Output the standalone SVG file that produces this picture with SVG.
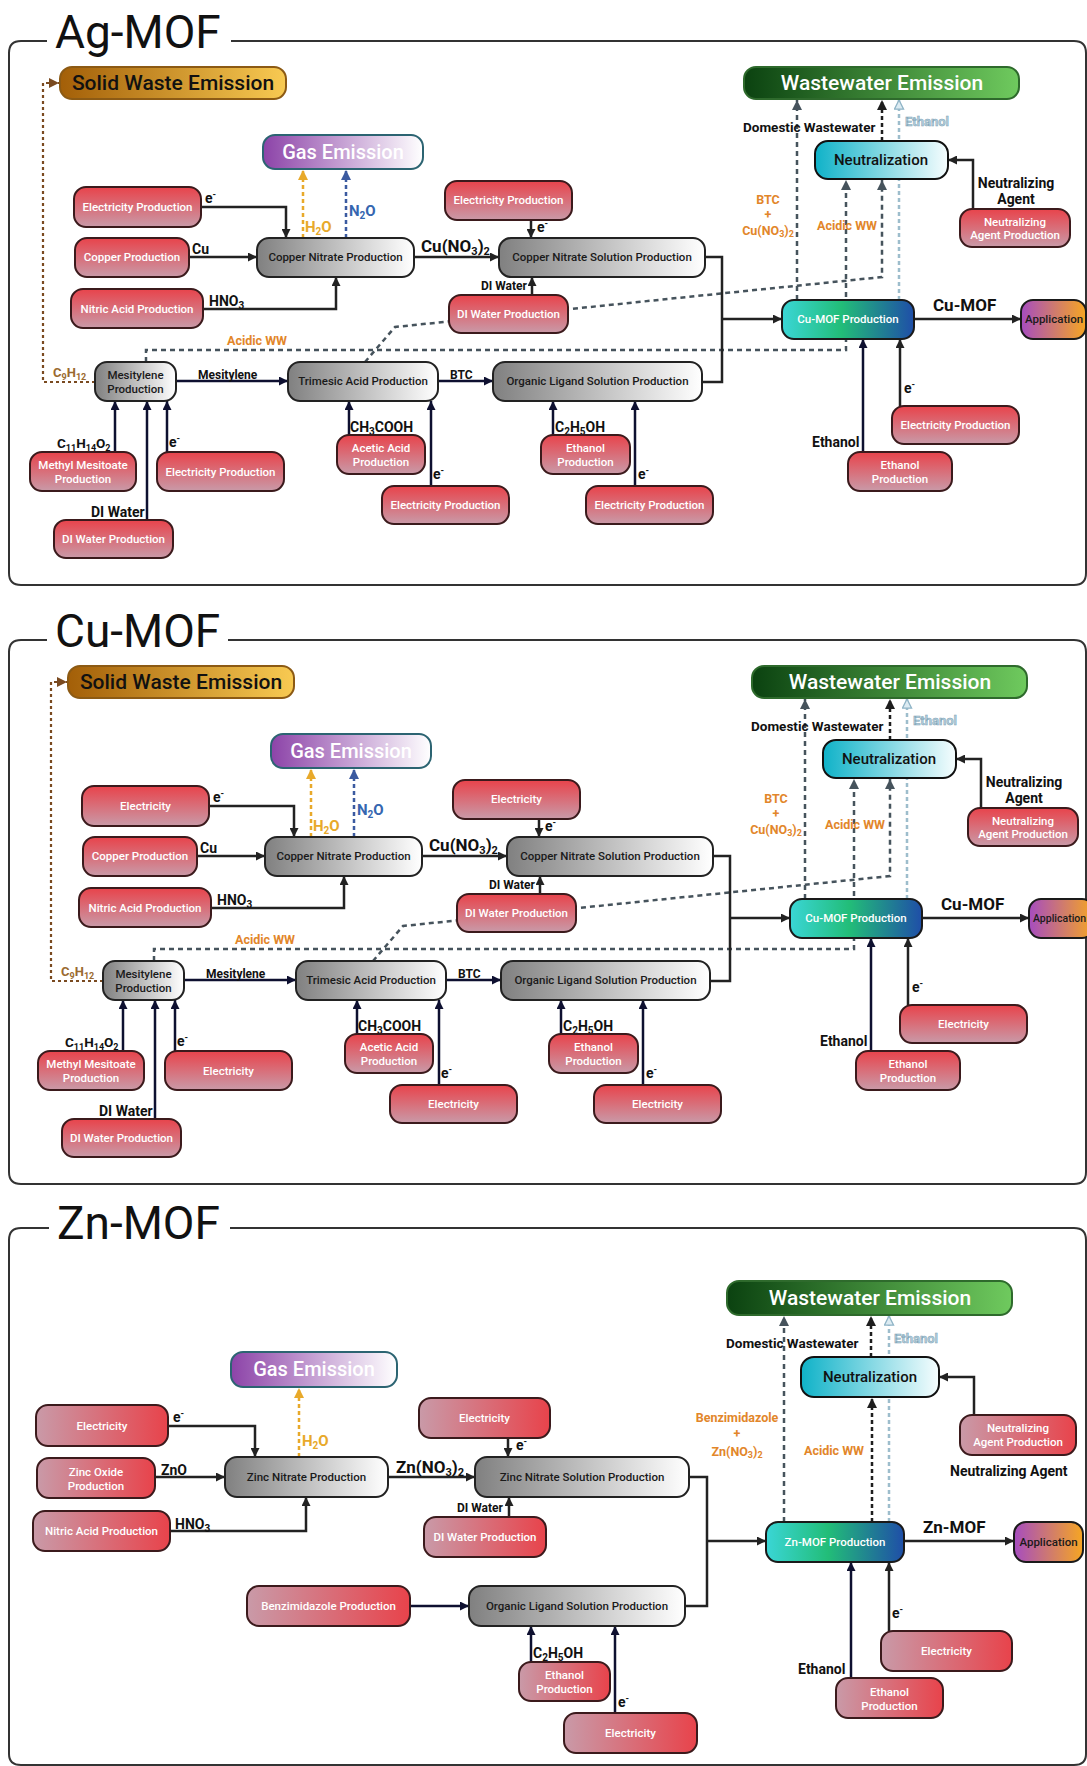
<svg xmlns="http://www.w3.org/2000/svg" width="1087" height="1766" viewBox="0 0 1087 1766">
<defs>
<linearGradient id="gRed" x1="0" y1="0" x2="0" y2="1"><stop offset="0" stop-color="#e8434b"/><stop offset="1" stop-color="#c99aa8"/></linearGradient>
<linearGradient id="gRedH" x1="0" y1="0" x2="1" y2="0"><stop offset="0" stop-color="#c99aa8"/><stop offset="1" stop-color="#e8434b"/></linearGradient>
<linearGradient id="gGray" x1="0" y1="0" x2="1" y2="0"><stop offset="0" stop-color="#808080"/><stop offset="1" stop-color="#ffffff"/></linearGradient>
<linearGradient id="gMof" x1="0" y1="0" x2="1" y2="0"><stop offset="0" stop-color="#3ad6d6"/><stop offset="0.45" stop-color="#22bd78"/><stop offset="1" stop-color="#1f4ea8"/></linearGradient>
<linearGradient id="gApp" x1="0" y1="0" x2="1" y2="0"><stop offset="0" stop-color="#a64cc0"/><stop offset="1" stop-color="#f6a622"/></linearGradient>
<linearGradient id="gNeu" x1="0" y1="0" x2="1" y2="0"><stop offset="0" stop-color="#0fb2c8"/><stop offset="1" stop-color="#f6fdfe"/></linearGradient>
<linearGradient id="gWW" x1="0" y1="0" x2="1" y2="0"><stop offset="0" stop-color="#0b4210"/><stop offset="1" stop-color="#6fca5e"/></linearGradient>
<linearGradient id="gGas" x1="0" y1="0" x2="1" y2="0"><stop offset="0" stop-color="#8c43a8"/><stop offset="1" stop-color="#ffffff"/></linearGradient>
<linearGradient id="gSW" x1="0" y1="0" x2="1" y2="0"><stop offset="0" stop-color="#a35f08"/><stop offset="1" stop-color="#f8ca52"/></linearGradient>
<marker id="aK" viewBox="0 0 10 10" refX="10" refY="5" markerWidth="9" markerHeight="9" markerUnits="userSpaceOnUse" orient="auto"><path d="M0,0 L10,5 L0,10 z" fill="#222"/></marker>
<marker id="aN" viewBox="0 0 10 10" refX="10" refY="5" markerWidth="9" markerHeight="9" markerUnits="userSpaceOnUse" orient="auto"><path d="M0,0 L10,5 L0,10 z" fill="#0e1030"/></marker>
<marker id="aG" viewBox="0 0 10 10" refX="10" refY="5" markerWidth="10" markerHeight="10" markerUnits="userSpaceOnUse" orient="auto"><path d="M0,0 L10,5 L0,10 z" fill="#46535c"/></marker>
<marker id="aD" viewBox="0 0 10 10" refX="10" refY="5" markerWidth="10" markerHeight="10" markerUnits="userSpaceOnUse" orient="auto"><path d="M0,0 L10,5 L0,10 z" fill="#1e1e1e"/></marker>
<marker id="aO" viewBox="0 0 10 10" refX="10" refY="5" markerWidth="10" markerHeight="10" markerUnits="userSpaceOnUse" orient="auto"><path d="M0,0 L10,5 L0,10 z" fill="#e8a92a"/></marker>
<marker id="aB" viewBox="0 0 10 10" refX="10" refY="5" markerWidth="10" markerHeight="10" markerUnits="userSpaceOnUse" orient="auto"><path d="M0,0 L10,5 L0,10 z" fill="#3b5aa0"/></marker>
<marker id="aL" viewBox="-1 -1 12 12" refX="10" refY="5" markerWidth="11" markerHeight="11" markerUnits="userSpaceOnUse" orient="auto"><path d="M0,0 L10,5 L0,10 z" fill="#dcebf2" stroke="#8fb4c6" stroke-width="1.4"/></marker>
<marker id="aBr" viewBox="0 0 10 10" refX="10" refY="5" markerWidth="10" markerHeight="10" markerUnits="userSpaceOnUse" orient="auto"><path d="M0,0 L10,5 L0,10 z" fill="#7a4a20"/></marker>
</defs>
<style>
text{font-family:Roboto,'Liberation Sans',sans-serif}
.red{fill:url(#gRed);stroke:#3b1a1c;stroke-width:2}
.redh{fill:url(#gRedH);stroke:#3b1a1c;stroke-width:2}
.gray{fill:url(#gGray);stroke:#222;stroke-width:2}
.mof{fill:url(#gMof);stroke:#1a1a1a;stroke-width:2}
.app{fill:url(#gApp);stroke:#1a1a1a;stroke-width:2}
.neu{fill:url(#gNeu);stroke:#111;stroke-width:2}
.ww{fill:url(#gWW);stroke:#2e6a2c;stroke-width:2}
.gas{fill:url(#gGas);stroke:#2c6472;stroke-width:2}
.sw{fill:url(#gSW);stroke:#8c5a14;stroke-width:2}
.nt{font-size:11.5px;font-weight:500;fill:#fff;text-anchor:middle}
.gt{font-size:11.5px;font-weight:500;fill:#1a1a1a;text-anchor:middle}
.nz{font-size:15px;font-weight:500;fill:#111;text-anchor:middle}
.lb{font-size:14px;font-weight:700;fill:#111}
.ls{font-size:12px;font-weight:700;fill:#111}
.lg{font-size:17px;font-weight:700;fill:#111}
.or{font-size:12.5px;font-weight:700;fill:#e2862a}
.lt{font-size:13px;font-weight:700;fill:#b4cfdc;stroke:#7fa3b6;stroke-width:0.5}
.hd{font-size:21px;font-weight:500;text-anchor:middle}
.ti{font-size:46px;font-weight:400;fill:#111}
.frame{fill:none;stroke:#333;stroke-width:2}
.c{fill:none;stroke:#222;stroke-width:2.5}
.cn{fill:none;stroke:#0e1030;stroke-width:2.5}
.dg{fill:none;stroke:#46535c;stroke-width:2.5;stroke-dasharray:5 4}
.dd{fill:none;stroke:#1e1e1e;stroke-width:2.5;stroke-dasharray:4 3}
.dl{fill:none;stroke:#9dbdcc;stroke-width:2.5;stroke-dasharray:4 3}
.dor{fill:none;stroke:#e8a92a;stroke-width:2.5;stroke-dasharray:4 3}
.dbl{fill:none;stroke:#3b5aa0;stroke-width:2.5;stroke-dasharray:4 3}
.dbr{fill:none;stroke:#7a4a20;stroke-width:2.2;stroke-dasharray:3 3}
</style>
<rect width="1087" height="1766" fill="#fff"/>

<!-- ================= PANEL 1 : Ag-MOF ================= -->
<g id="p1-frame">
<path class="frame" d="M47,41 H21 Q9,41 9,53 V573 Q9,585 21,585 H1074 Q1086,585 1086,573 V53 Q1086,41 1074,41 H231"/>
<text class="ti" x="55" y="48">Ag-MOF</text>
</g>
<g id="p1-connectors">
<path class="dbr" d="M95,382 H43 V83 H59" marker-end="url(#aBr)"/>
<path class="dor" d="M303,238 V170" marker-end="url(#aO)"/>
<path class="dbl" d="M346,238 V170" marker-end="url(#aB)"/>
<path class="dg" d="M146,362 V350 H846 V180" marker-end="url(#aG)"/>
<path class="dg" d="M365,362 L395,327 L882,277 V180" marker-end="url(#aG)"/>
<path class="dg" d="M797,300 V100" marker-end="url(#aG)"/>
<path class="dd" d="M882,141 V100" marker-end="url(#aD)"/>
<path class="dl" d="M899,300 V100" marker-end="url(#aL)"/>
<path class="c" d="M201,207 H286 V238" marker-end="url(#aK)"/>
<path class="c" d="M189,257 H257" marker-end="url(#aK)"/>
<path class="c" d="M203,309 H336 V277" marker-end="url(#aK)"/>
<path class="c" d="M414,257 H499" marker-end="url(#aK)"/>
<path class="c" d="M531,220 V238" marker-end="url(#aK)"/>
<path class="c" d="M532,295 V277" marker-end="url(#aK)"/>
<path class="c" d="M705,257 H722 V382 H702"/>
<path class="c" d="M722,319 H782" marker-end="url(#aK)"/>
<path class="cn" d="M176,381 H288" marker-end="url(#aN)"/>
<path class="cn" d="M438,381 H493" marker-end="url(#aN)"/>
<path class="cn" d="M115,452 V401" marker-end="url(#aN)"/>
<path class="cn" d="M147,520 V401" marker-end="url(#aN)"/>
<path class="cn" d="M167,452 V401" marker-end="url(#aN)"/>
<path class="cn" d="M349,435 V401" marker-end="url(#aN)"/>
<path class="cn" d="M431,486 V401" marker-end="url(#aN)"/>
<path class="cn" d="M553,435 V401" marker-end="url(#aN)"/>
<path class="cn" d="M635,486 V401" marker-end="url(#aN)"/>
<path class="c" d="M914,319 H1021" marker-end="url(#aK)"/>
<path class="cn" d="M863,452 V339" marker-end="url(#aN)"/>
<path class="c" d="M900,406 V339" marker-end="url(#aK)"/>
<path class="c" d="M973,209 V160 H948" marker-end="url(#aK)"/>
</g>
<g id="p1-labels">
<text class="lb" x="205" y="203">e<tspan dy="-6" font-size="9">-</tspan></text>
<text class="lb" x="192" y="254">Cu</text>
<text class="lb" x="209" y="306">HNO<tspan dy="3" font-size="10">3</tspan></text>
<text class="lb" x="305" y="232" style="fill:#e8a92a;font-size:15px">H<tspan dy="3" font-size="10">2</tspan><tspan dy="-3">O</tspan></text>
<text class="lb" x="349" y="216" style="fill:#3566b0;font-size:15px">N<tspan dy="3" font-size="10">2</tspan><tspan dy="-3">O</tspan></text>
<text class="lg" x="421" y="252">Cu(NO<tspan dy="3" font-size="11">3</tspan><tspan dy="-3">)</tspan><tspan dy="3" font-size="11">2</tspan></text>
<text class="lb" x="537" y="232">e<tspan dy="-6" font-size="9">-</tspan></text>
<text class="ls" x="481" y="290">DI Water</text>
<text class="ls" x="198" y="379">Mesitylene</text>
<text class="ls" x="450" y="379">BTC</text>
<text class="lb" x="53" y="377" style="fill:#9a6a30;font-size:13px">C<tspan dy="3" font-size="9">9</tspan><tspan dy="-3">H</tspan><tspan dy="3" font-size="9">12</tspan></text>
<text class="or" x="227" y="345">Acidic WW</text>
<text class="lb" x="57" y="448" style="font-size:13.5px">C<tspan dy="3" font-size="9">11</tspan><tspan dy="-3">H</tspan><tspan dy="3" font-size="9">14</tspan><tspan dy="-3">O</tspan><tspan dy="3" font-size="9">2</tspan></text>
<text class="lb" x="91" y="517">DI Water</text>
<text class="lb" x="169" y="447">e<tspan dy="-6" font-size="9">-</tspan></text>
<text class="lb" x="350" y="432">CH<tspan dy="3" font-size="10">3</tspan><tspan dy="-3">COOH</tspan></text>
<text class="lb" x="433" y="479">e<tspan dy="-6" font-size="9">-</tspan></text>
<text class="lb" x="555" y="432">C<tspan dy="3" font-size="10">2</tspan><tspan dy="-3">H</tspan><tspan dy="3" font-size="10">5</tspan><tspan dy="-3">OH</tspan></text>
<text class="lb" x="638" y="479">e<tspan dy="-6" font-size="9">-</tspan></text>
<text class="lb" x="812" y="447">Ethanol</text>
<text class="lb" x="904" y="393">e<tspan dy="-6" font-size="9">-</tspan></text>
<text class="lg" x="933" y="311">Cu-MOF</text>
<text class="lb" x="743" y="132" style="font-size:13.5px">Domestic Wastewater</text>
<text class="lt" x="905" y="126">Ethanol</text>
<text class="or" x="768" y="204" text-anchor="middle">BTC</text>
<text class="or" x="768" y="219" text-anchor="middle">+</text>
<text class="or" x="768" y="235" text-anchor="middle">Cu(NO<tspan dy="2" font-size="9">3</tspan><tspan dy="-2">)</tspan><tspan dy="2" font-size="9">2</tspan></text>
<text class="or" x="817" y="230">Acidic WW</text>
<text class="lb" x="1016" y="188" text-anchor="middle">Neutralizing</text>
<text class="lb" x="1016" y="204" text-anchor="middle">Agent</text>
</g>
<g id="p1-solid-waste"><rect class="sw" x="60" y="67" width="226" height="32" rx="12"/><text class="hd" x="173" y="90" fill="#111">Solid Waste Emission</text></g>
<g id="p1-gas"><rect class="gas" x="263" y="135" width="160" height="34" rx="12"/><text class="hd" x="343" y="159" fill="#fff" style="font-size:20px">Gas Emission</text></g>
<g id="p1-wastewater"><rect class="ww" x="744" y="67" width="275" height="32" rx="12"/><text class="hd" x="882" y="90" fill="#fff">Wastewater Emission</text></g>
<g id="p1-neutralization"><rect class="neu" x="815" y="141" width="133" height="38" rx="13"/><text class="nz" x="881" y="165">Neutralization</text></g>
<g id="p1-neutralizing-agent-prod"><rect class="red" x="960" y="209" width="110" height="38" rx="12"/><text class="nt" x="1015" y="226">Neutralizing</text><text class="nt" x="1015" y="239">Agent Production</text></g>
<g id="p1-mof-prod"><rect class="mof" x="782" y="300" width="132" height="39" rx="12"/><text class="nt" x="848" y="323">Cu-MOF Production</text></g>
<g id="p1-application"><rect class="app" x="1021" y="300" width="65" height="39" rx="12"/><text class="gt" x="1054" y="323">Application</text></g>
<g id="p1-elec-a"><rect class="red" x="74" y="187" width="127" height="40" rx="12"/><text class="nt" x="137.5" y="211">Electricity Production</text></g>
<g id="p1-copper"><rect class="red" x="75" y="238" width="114" height="39" rx="12"/><text class="nt" x="132" y="261">Copper Production</text></g>
<g id="p1-nitric"><rect class="red" x="71" y="289" width="132" height="39" rx="12"/><text class="nt" x="137" y="313">Nitric Acid Production</text></g>
<g id="p1-copper-nitrate"><rect class="gray" x="257" y="238" width="157" height="39" rx="12"/><text class="gt" x="335.5" y="261">Copper Nitrate Production</text></g>
<g id="p1-elec-b"><rect class="red" x="445" y="181" width="127" height="39" rx="12"/><text class="nt" x="508.5" y="204">Electricity Production</text></g>
<g id="p1-cn-solution"><rect class="gray" x="499" y="238" width="206" height="39" rx="12"/><text class="gt" x="602" y="261">Copper Nitrate Solution Production</text></g>
<g id="p1-diwater-a"><rect class="red" x="449" y="295" width="119" height="38" rx="12"/><text class="nt" x="508.5" y="318">DI Water Production</text></g>
<g id="p1-mesitylene"><rect class="gray" x="95" y="362" width="81" height="39" rx="12"/><text class="gt" x="135.5" y="379">Mesitylene</text><text class="gt" x="135.5" y="393">Production</text></g>
<g id="p1-trimesic"><rect class="gray" x="288" y="362" width="150" height="39" rx="12"/><text class="gt" x="363" y="385">Trimesic Acid Production</text></g>
<g id="p1-organic-ligand"><rect class="gray" x="493" y="362" width="209" height="39" rx="12"/><text class="gt" x="597.5" y="385">Organic Ligand Solution Production</text></g>
<g id="p1-methyl-mesitoate"><rect class="red" x="30" y="452" width="106" height="39" rx="12"/><text class="nt" x="83" y="469">Methyl Mesitoate</text><text class="nt" x="83" y="483">Production</text></g>
<g id="p1-elec-c"><rect class="red" x="157" y="452" width="127" height="39" rx="12"/><text class="nt" x="220.5" y="476">Electricity Production</text></g>
<g id="p1-diwater-b"><rect class="red" x="54" y="520" width="119" height="38" rx="12"/><text class="nt" x="113.5" y="543">DI Water Production</text></g>
<g id="p1-acetic"><rect class="red" x="337" y="435" width="88" height="39" rx="12"/><text class="nt" x="381" y="452">Acetic Acid</text><text class="nt" x="381" y="466">Production</text></g>
<g id="p1-elec-d"><rect class="red" x="382" y="486" width="127" height="38" rx="12"/><text class="nt" x="445.5" y="509">Electricity Production</text></g>
<g id="p1-ethanol-a"><rect class="red" x="541" y="435" width="89" height="39" rx="12"/><text class="nt" x="585.5" y="452">Ethanol</text><text class="nt" x="585.5" y="466">Production</text></g>
<g id="p1-elec-e"><rect class="red" x="586" y="486" width="127" height="38" rx="12"/><text class="nt" x="649.5" y="509">Electricity Production</text></g>
<g id="p1-elec-f"><rect class="red" x="892" y="406" width="127" height="38" rx="12"/><text class="nt" x="955.5" y="429">Electricity Production</text></g>
<g id="p1-ethanol-b"><rect class="red" x="848" y="452" width="104" height="39" rx="12"/><text class="nt" x="900" y="469">Ethanol</text><text class="nt" x="900" y="483">Production</text></g>

<!-- ================= PANEL 2 : Cu-MOF ================= -->
<g id="p2-frame">
<path class="frame" d="M47,640 H21 Q9,640 9,652 V1172 Q9,1184 21,1184 H1074 Q1086,1184 1086,1172 V652 Q1086,640 1074,640 H228"/>
<text class="ti" x="55" y="647">Cu-MOF</text>
</g>
<g transform="translate(8,599)">
<g id="p2-connectors">
<path class="dbr" d="M95,382 H43 V83 H59" marker-end="url(#aBr)"/>
<path class="dor" d="M303,238 V170" marker-end="url(#aO)"/>
<path class="dbl" d="M346,238 V170" marker-end="url(#aB)"/>
<path class="dg" d="M146,362 V350 H846 V180" marker-end="url(#aG)"/>
<path class="dg" d="M365,362 L395,327 L882,277 V180" marker-end="url(#aG)"/>
<path class="dg" d="M797,300 V100" marker-end="url(#aG)"/>
<path class="dd" d="M882,141 V100" marker-end="url(#aD)"/>
<path class="dl" d="M899,300 V100" marker-end="url(#aL)"/>
<path class="c" d="M201,207 H286 V238" marker-end="url(#aK)"/>
<path class="c" d="M189,257 H257" marker-end="url(#aK)"/>
<path class="c" d="M203,309 H336 V277" marker-end="url(#aK)"/>
<path class="c" d="M414,257 H499" marker-end="url(#aK)"/>
<path class="c" d="M531,220 V238" marker-end="url(#aK)"/>
<path class="c" d="M532,295 V277" marker-end="url(#aK)"/>
<path class="c" d="M705,257 H722 V382 H702"/>
<path class="c" d="M722,319 H782" marker-end="url(#aK)"/>
<path class="cn" d="M176,381 H288" marker-end="url(#aN)"/>
<path class="cn" d="M438,381 H493" marker-end="url(#aN)"/>
<path class="cn" d="M115,452 V401" marker-end="url(#aN)"/>
<path class="cn" d="M147,520 V401" marker-end="url(#aN)"/>
<path class="cn" d="M167,452 V401" marker-end="url(#aN)"/>
<path class="cn" d="M349,435 V401" marker-end="url(#aN)"/>
<path class="cn" d="M431,486 V401" marker-end="url(#aN)"/>
<path class="cn" d="M553,435 V401" marker-end="url(#aN)"/>
<path class="cn" d="M635,486 V401" marker-end="url(#aN)"/>
<path class="c" d="M914,319 H1021" marker-end="url(#aK)"/>
<path class="cn" d="M863,452 V339" marker-end="url(#aN)"/>
<path class="c" d="M900,406 V339" marker-end="url(#aK)"/>
<path class="c" d="M973,209 V160 H948" marker-end="url(#aK)"/>
</g>
<g id="p2-labels">
<text class="lb" x="205" y="203">e<tspan dy="-6" font-size="9">-</tspan></text>
<text class="lb" x="192" y="254">Cu</text>
<text class="lb" x="209" y="306">HNO<tspan dy="3" font-size="10">3</tspan></text>
<text class="lb" x="305" y="232" style="fill:#e8a92a;font-size:15px">H<tspan dy="3" font-size="10">2</tspan><tspan dy="-3">O</tspan></text>
<text class="lb" x="349" y="216" style="fill:#3566b0;font-size:15px">N<tspan dy="3" font-size="10">2</tspan><tspan dy="-3">O</tspan></text>
<text class="lg" x="421" y="252">Cu(NO<tspan dy="3" font-size="11">3</tspan><tspan dy="-3">)</tspan><tspan dy="3" font-size="11">2</tspan></text>
<text class="lb" x="537" y="232">e<tspan dy="-6" font-size="9">-</tspan></text>
<text class="ls" x="481" y="290">DI Water</text>
<text class="ls" x="198" y="379">Mesitylene</text>
<text class="ls" x="450" y="379">BTC</text>
<text class="lb" x="53" y="377" style="fill:#9a6a30;font-size:13px">C<tspan dy="3" font-size="9">9</tspan><tspan dy="-3">H</tspan><tspan dy="3" font-size="9">12</tspan></text>
<text class="or" x="227" y="345">Acidic WW</text>
<text class="lb" x="57" y="448" style="font-size:13.5px">C<tspan dy="3" font-size="9">11</tspan><tspan dy="-3">H</tspan><tspan dy="3" font-size="9">14</tspan><tspan dy="-3">O</tspan><tspan dy="3" font-size="9">2</tspan></text>
<text class="lb" x="91" y="517">DI Water</text>
<text class="lb" x="169" y="447">e<tspan dy="-6" font-size="9">-</tspan></text>
<text class="lb" x="350" y="432">CH<tspan dy="3" font-size="10">3</tspan><tspan dy="-3">COOH</tspan></text>
<text class="lb" x="433" y="479">e<tspan dy="-6" font-size="9">-</tspan></text>
<text class="lb" x="555" y="432">C<tspan dy="3" font-size="10">2</tspan><tspan dy="-3">H</tspan><tspan dy="3" font-size="10">5</tspan><tspan dy="-3">OH</tspan></text>
<text class="lb" x="638" y="479">e<tspan dy="-6" font-size="9">-</tspan></text>
<text class="lb" x="812" y="447">Ethanol</text>
<text class="lb" x="904" y="393">e<tspan dy="-6" font-size="9">-</tspan></text>
<text class="lg" x="933" y="311">Cu-MOF</text>
<text class="lb" x="743" y="132" style="font-size:13.5px">Domestic Wastewater</text>
<text class="lt" x="905" y="126">Ethanol</text>
<text class="or" x="768" y="204" text-anchor="middle">BTC</text>
<text class="or" x="768" y="219" text-anchor="middle">+</text>
<text class="or" x="768" y="235" text-anchor="middle">Cu(NO<tspan dy="2" font-size="9">3</tspan><tspan dy="-2">)</tspan><tspan dy="2" font-size="9">2</tspan></text>
<text class="or" x="817" y="230">Acidic WW</text>
<text class="lb" x="1016" y="188" text-anchor="middle">Neutralizing</text>
<text class="lb" x="1016" y="204" text-anchor="middle">Agent</text>
</g>
<g id="p2-solid-waste"><rect class="sw" x="60" y="67" width="226" height="32" rx="12"/><text class="hd" x="173" y="90" fill="#111">Solid Waste Emission</text></g>
<g id="p2-gas"><rect class="gas" x="263" y="135" width="160" height="34" rx="12"/><text class="hd" x="343" y="159" fill="#fff" style="font-size:20px">Gas Emission</text></g>
<g id="p2-wastewater"><rect class="ww" x="744" y="67" width="275" height="32" rx="12"/><text class="hd" x="882" y="90" fill="#fff">Wastewater Emission</text></g>
<g id="p2-neutralization"><rect class="neu" x="815" y="141" width="133" height="38" rx="13"/><text class="nz" x="881" y="165">Neutralization</text></g>
<g id="p2-neutralizing-agent-prod"><rect class="red" x="960" y="209" width="110" height="38" rx="12"/><text class="nt" x="1015" y="226">Neutralizing</text><text class="nt" x="1015" y="239">Agent Production</text></g>
<g id="p2-mof-prod"><rect class="mof" x="782" y="300" width="132" height="39" rx="12"/><text class="nt" x="848" y="323">Cu-MOF Production</text></g>
<g id="p2-application"><rect class="app" x="1021" y="300" width="65" height="39" rx="12"/><text class="gt" x="1025" y="323" style="font-size:10.5px;text-anchor:start">Application</text></g>
<g id="p2-elec-a"><rect class="red" x="74" y="187" width="127" height="40" rx="12"/><text class="nt" x="137.5" y="211">Electricity</text></g>
<g id="p2-copper"><rect class="red" x="75" y="238" width="114" height="39" rx="12"/><text class="nt" x="132" y="261">Copper Production</text></g>
<g id="p2-nitric"><rect class="red" x="71" y="289" width="132" height="39" rx="12"/><text class="nt" x="137" y="313">Nitric Acid Production</text></g>
<g id="p2-copper-nitrate"><rect class="gray" x="257" y="238" width="157" height="39" rx="12"/><text class="gt" x="335.5" y="261">Copper Nitrate Production</text></g>
<g id="p2-elec-b"><rect class="red" x="445" y="181" width="127" height="39" rx="12"/><text class="nt" x="508.5" y="204">Electricity</text></g>
<g id="p2-cn-solution"><rect class="gray" x="499" y="238" width="206" height="39" rx="12"/><text class="gt" x="602" y="261">Copper Nitrate Solution Production</text></g>
<g id="p2-diwater-a"><rect class="red" x="449" y="295" width="119" height="38" rx="12"/><text class="nt" x="508.5" y="318">DI Water Production</text></g>
<g id="p2-mesitylene"><rect class="gray" x="95" y="362" width="81" height="39" rx="12"/><text class="gt" x="135.5" y="379">Mesitylene</text><text class="gt" x="135.5" y="393">Production</text></g>
<g id="p2-trimesic"><rect class="gray" x="288" y="362" width="150" height="39" rx="12"/><text class="gt" x="363" y="385">Trimesic Acid Production</text></g>
<g id="p2-organic-ligand"><rect class="gray" x="493" y="362" width="209" height="39" rx="12"/><text class="gt" x="597.5" y="385">Organic Ligand Solution Production</text></g>
<g id="p2-methyl-mesitoate"><rect class="red" x="30" y="452" width="106" height="39" rx="12"/><text class="nt" x="83" y="469">Methyl Mesitoate</text><text class="nt" x="83" y="483">Production</text></g>
<g id="p2-elec-c"><rect class="red" x="157" y="452" width="127" height="39" rx="12"/><text class="nt" x="220.5" y="476">Electricity</text></g>
<g id="p2-diwater-b"><rect class="red" x="54" y="520" width="119" height="38" rx="12"/><text class="nt" x="113.5" y="543">DI Water Production</text></g>
<g id="p2-acetic"><rect class="red" x="337" y="435" width="88" height="39" rx="12"/><text class="nt" x="381" y="452">Acetic Acid</text><text class="nt" x="381" y="466">Production</text></g>
<g id="p2-elec-d"><rect class="red" x="382" y="486" width="127" height="38" rx="12"/><text class="nt" x="445.5" y="509">Electricity</text></g>
<g id="p2-ethanol-a"><rect class="red" x="541" y="435" width="89" height="39" rx="12"/><text class="nt" x="585.5" y="452">Ethanol</text><text class="nt" x="585.5" y="466">Production</text></g>
<g id="p2-elec-e"><rect class="red" x="586" y="486" width="127" height="38" rx="12"/><text class="nt" x="649.5" y="509">Electricity</text></g>
<g id="p2-elec-f"><rect class="red" x="892" y="406" width="127" height="38" rx="12"/><text class="nt" x="955.5" y="429">Electricity</text></g>
<g id="p2-ethanol-b"><rect class="red" x="848" y="452" width="104" height="39" rx="12"/><text class="nt" x="900" y="469">Ethanol</text><text class="nt" x="900" y="483">Production</text></g>
</g>

<!-- ================= PANEL 3 : Zn-MOF ================= -->
<g id="p3-frame">
<path class="frame" d="M49,1228 H21 Q9,1228 9,1240 V1754 Q9,1765 21,1765 H1074 Q1086,1765 1086,1754 V1240 Q1086,1228 1074,1228 H230"/>
<text class="ti" x="57" y="1239">Zn-MOF</text>
</g>
<g id="p3-connectors">
<path class="dor" d="M299,1457 V1388" marker-end="url(#aO)"/>
<path class="dg" d="M784,1522 V1316" marker-end="url(#aG)"/>
<path class="dd" d="M871,1357 V1316" marker-end="url(#aD)"/>
<path class="dd" d="M872,1522 V1398" marker-end="url(#aD)"/>
<path class="dl" d="M889,1522 V1316" marker-end="url(#aL)"/>
<path class="c" d="M168,1426 H255 V1457" marker-end="url(#aK)"/>
<path class="c" d="M155,1477 H225" marker-end="url(#aK)"/>
<path class="c" d="M170,1531 H306 V1497" marker-end="url(#aK)"/>
<path class="c" d="M388,1477 H475" marker-end="url(#aK)"/>
<path class="c" d="M508,1438 V1457" marker-end="url(#aK)"/>
<path class="c" d="M509,1517 V1497" marker-end="url(#aK)"/>
<path class="cn" d="M410,1606 H469" marker-end="url(#aN)"/>
<path class="c" d="M689,1477 H707 V1606 H685"/>
<path class="c" d="M707,1541 H766" marker-end="url(#aK)"/>
<path class="c" d="M904,1541 H1014" marker-end="url(#aK)"/>
<path class="cn" d="M851,1678 V1562" marker-end="url(#aN)"/>
<path class="c" d="M889,1631 V1562" marker-end="url(#aK)"/>
<path class="cn" d="M531,1662 V1626" marker-end="url(#aN)"/>
<path class="cn" d="M615,1713 V1626" marker-end="url(#aN)"/>
<path class="c" d="M974,1415 V1377 H939" marker-end="url(#aK)"/>
</g>
<g id="p3-labels">
<text class="lb" x="173" y="1422">e<tspan dy="-6" font-size="9">-</tspan></text>
<text class="lb" x="161" y="1475">ZnO</text>
<text class="lb" x="175" y="1529">HNO<tspan dy="3" font-size="10">3</tspan></text>
<text class="lb" x="302" y="1446" style="fill:#e8a92a;font-size:15px">H<tspan dy="3" font-size="10">2</tspan><tspan dy="-3">O</tspan></text>
<text class="lg" x="396" y="1473">Zn(NO<tspan dy="3" font-size="11">3</tspan><tspan dy="-3">)</tspan><tspan dy="3" font-size="11">2</tspan></text>
<text class="lb" x="516" y="1450">e<tspan dy="-6" font-size="9">-</tspan></text>
<text class="ls" x="457" y="1512">DI Water</text>
<text class="lb" x="533" y="1658">C<tspan dy="3" font-size="10">2</tspan><tspan dy="-3">H</tspan><tspan dy="3" font-size="10">5</tspan><tspan dy="-3">OH</tspan></text>
<text class="lb" x="618" y="1707">e<tspan dy="-6" font-size="9">-</tspan></text>
<text class="lb" x="798" y="1674">Ethanol</text>
<text class="lb" x="892" y="1618">e<tspan dy="-6" font-size="9">-</tspan></text>
<text class="lg" x="923" y="1533">Zn-MOF</text>
<text class="lb" x="726" y="1348" style="font-size:13.5px">Domestic Wastewater</text>
<text class="lt" x="894" y="1343">Ethanol</text>
<text class="or" x="737" y="1422" text-anchor="middle">Benzimidazole</text>
<text class="or" x="737" y="1438" text-anchor="middle">+</text>
<text class="or" x="737" y="1456" text-anchor="middle">Zn(NO<tspan dy="2" font-size="9">3</tspan><tspan dy="-2">)</tspan><tspan dy="2" font-size="9">2</tspan></text>
<text class="or" x="804" y="1455">Acidic WW</text>
<text class="lb" x="950" y="1476">Neutralizing Agent</text>
</g>
<g id="p3-gas"><rect class="gas" x="231" y="1352" width="166" height="35" rx="12"/><text class="hd" x="314" y="1376" fill="#fff" style="font-size:20px">Gas Emission</text></g>
<g id="p3-wastewater"><rect class="ww" x="727" y="1281" width="285" height="34" rx="12"/><text class="hd" x="870" y="1305" fill="#fff">Wastewater Emission</text></g>
<g id="p3-neutralization"><rect class="neu" x="801" y="1357" width="138" height="40" rx="13"/><text class="nz" x="870" y="1382">Neutralization</text></g>
<g id="p3-neutralizing-agent-prod"><rect class="redh" x="960" y="1415" width="116" height="40" rx="12"/><text class="nt" x="1018" y="1432">Neutralizing</text><text class="nt" x="1018" y="1446">Agent Production</text></g>
<g id="p3-elec-a"><rect class="redh" x="36" y="1405" width="132" height="41" rx="12"/><text class="nt" x="102" y="1430">Electricity</text></g>
<g id="p3-zinc-oxide"><rect class="redh" x="37" y="1458" width="118" height="40" rx="12"/><text class="nt" x="96" y="1476">Zinc Oxide</text><text class="nt" x="96" y="1490">Production</text></g>
<g id="p3-nitric"><rect class="redh" x="33" y="1511" width="137" height="40" rx="12"/><text class="nt" x="101.5" y="1535">Nitric Acid Production</text></g>
<g id="p3-zinc-nitrate"><rect class="gray" x="225" y="1457" width="163" height="40" rx="12"/><text class="gt" x="306.5" y="1481">Zinc Nitrate Production</text></g>
<g id="p3-elec-b"><rect class="redh" x="419" y="1398" width="131" height="40" rx="12"/><text class="nt" x="484.5" y="1422">Electricity</text></g>
<g id="p3-zn-solution"><rect class="gray" x="475" y="1457" width="214" height="40" rx="12"/><text class="gt" x="582" y="1481">Zinc Nitrate Solution Production</text></g>
<g id="p3-diwater"><rect class="redh" x="424" y="1517" width="122" height="40" rx="12"/><text class="nt" x="485" y="1541">DI Water Production</text></g>
<g id="p3-benzimidazole"><rect class="redh" x="247" y="1586" width="163" height="40" rx="12"/><text class="nt" x="328.5" y="1610">Benzimidazole Production</text></g>
<g id="p3-organic-ligand"><rect class="gray" x="469" y="1586" width="216" height="40" rx="12"/><text class="gt" x="577" y="1610">Organic Ligand Solution Production</text></g>
<g id="p3-ethanol-a"><rect class="redh" x="519" y="1662" width="91" height="39" rx="12"/><text class="nt" x="564.5" y="1679">Ethanol</text><text class="nt" x="564.5" y="1693">Production</text></g>
<g id="p3-elec-c"><rect class="redh" x="564" y="1713" width="133" height="40" rx="12"/><text class="nt" x="630.5" y="1737">Electricity</text></g>
<g id="p3-mof-prod"><rect class="mof" x="766" y="1522" width="138" height="40" rx="12"/><text class="nt" x="835" y="1546">Zn-MOF Production</text></g>
<g id="p3-application"><rect class="app" x="1014" y="1522" width="69" height="40" rx="12"/><text class="gt" x="1048.5" y="1546">Application</text></g>
<g id="p3-elec-d"><rect class="redh" x="881" y="1631" width="131" height="40" rx="12"/><text class="nt" x="946.5" y="1655">Electricity</text></g>
<g id="p3-ethanol-b"><rect class="redh" x="836" y="1678" width="107" height="40" rx="12"/><text class="nt" x="889.5" y="1696">Ethanol</text><text class="nt" x="889.5" y="1710">Production</text></g>
</svg>
